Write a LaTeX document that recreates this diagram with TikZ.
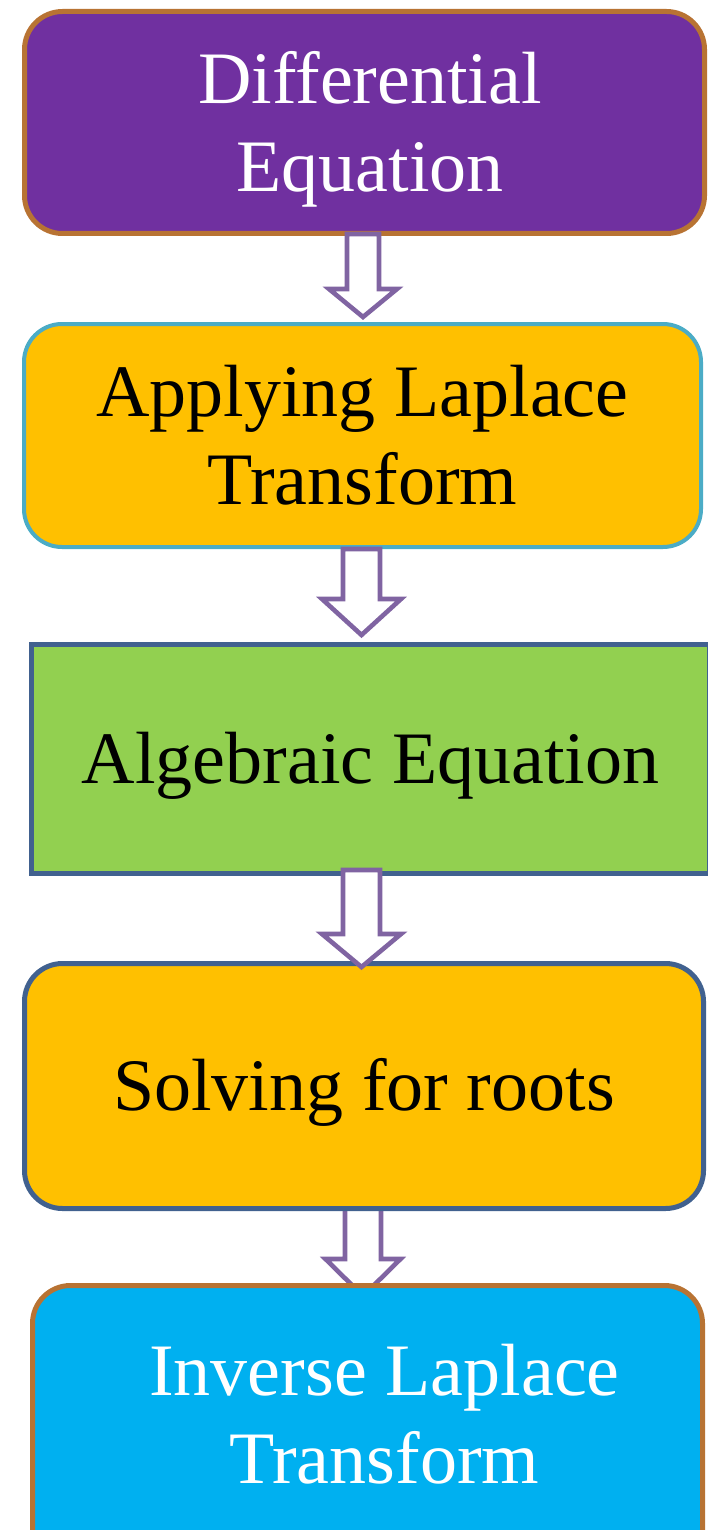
\documentclass[tikz,border=0pt]{standalone}
\usepackage{fontspec}
\setmainfont{Liberation Serif}
\usetikzlibrary{calc}
\pgfdeclarelayer{background}
\pgfsetlayers{background,main}
\definecolor{purplef}{HTML}{7030A0}
\definecolor{brownb}{HTML}{B87333}
\definecolor{cyanb}{HTML}{4BACC6}
\definecolor{orangef}{HTML}{FFC000}
\definecolor{greenf}{HTML}{92D050}
\definecolor{navyb}{HTML}{41618F}
\definecolor{bluef}{HTML}{00B0F0}
\definecolor{arrowc}{HTML}{8064A2}
\newcommand{\pstr}{\rule[-0.216em]{0pt}{1.107em}}
\begin{document}
\begin{tikzpicture}[x=1pt,y=-1pt,
  box/.style={rectangle, inner sep=0pt, align=center, font=\fontsize{74}{88}\selectfont},
  rbox/.style={box, rounded corners=38pt},
  barrow/.style={draw=arrowc, line width=4.6pt, fill=white, line join=miter}]
\useasboundingbox (0,0) rectangle (708,1530);

\node[rbox, draw=brownb, line width=5pt, fill=purplef, text=white,
      minimum width=680pt, minimum height=222pt] (d1) at (364.5,122.5)
      {\hspace*{11pt}Differential\pstr\\\hspace*{11pt}Equation\pstr};
\node[rbox, draw=cyanb, line width=4pt, fill=orangef, text=black,
      minimum width=677pt, minimum height=223pt] (d2) at (362.5,435.5)
      {Applying Laplace\pstr\\Transform\pstr};
\node[box, draw=navyb, line width=5pt, fill=greenf, text=black,
      minimum width=678pt, minimum height=229pt] (d3) at (370.5,759)
      {Algebraic Equation\pstr};
\node[rbox, draw=navyb, line width=5pt, fill=orangef, text=black,
      minimum width=679pt, minimum height=245pt] (d4) at (364,1086)
      {Solving for roots\pstr};
\node[rbox, draw=brownb, line width=5pt, fill=bluef, text=white,
      minimum width=670pt, minimum height=300pt] (d5) at (367.5,1435.5)
      {\hspace*{34pt}Inverse Laplace\pstr\\\hspace*{34pt}Transform\rule[-58pt]{0pt}{124pt}};

% arrow 1
\draw[barrow] let \p1=(d1.south), \p2=(d2.north) in
  (347pt,\y1+2pt) -- (347pt,\y2+33pt) -- (329pt,\y2+33pt) -- (363pt,\y2+5pt)
  -- (397pt,\y2+33pt) -- (379pt,\y2+33pt) -- (379pt,\y1+2pt) -- cycle;
% arrow 2
\draw[barrow] let \p1=(d2.south), \p2=(d3.north) in
  (343pt,\y1) -- (343pt,\y2+43pt) -- (322pt,\y2+43pt) -- (361.5pt,\y2+7pt)
  -- (401pt,\y2+43pt) -- (380pt,\y2+43pt) -- (380pt,\y1) -- cycle;
% arrow 3
\draw[barrow] let \p1=(d3.south), \p2=(d4.north) in
  (343pt,\y1+6pt) -- (343pt,\y2+27pt) -- (322pt,\y2+27pt) -- (361.5pt,\y2-6pt)
  -- (401pt,\y2+27pt) -- (380pt,\y2+27pt) -- (380pt,\y1+6pt) -- cycle;
% arrow 4 (tip hidden under last box)
\begin{pgfonlayer}{background}
\draw[barrow] let \p1=(d4.south), \p2=(d5.north) in
  (345pt,\y1+3pt) -- (345pt,\y2+24pt) -- (325.5pt,\y2+24pt) -- (363pt,\y2-13pt)
  -- (400.5pt,\y2+24pt) -- (381pt,\y2+24pt) -- (381pt,\y1+3pt) -- cycle;
\end{pgfonlayer}
\end{tikzpicture}
\end{document}
